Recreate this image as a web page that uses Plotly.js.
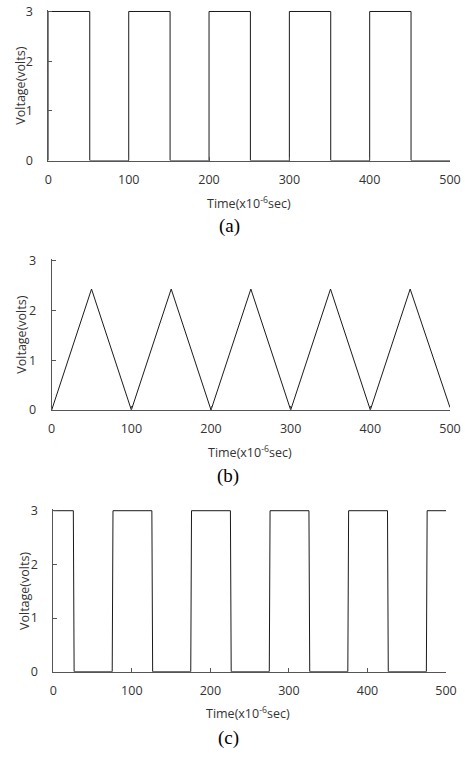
<!DOCTYPE html>
<html>
<head>
<meta charset="utf-8">
<script src="https://cdn.plot.ly/plotly-3.0.1.min.js"></script>
<style>html,body{margin:0;padding:0;background:#fff;}#chart{width:465px;height:757px;}</style>
</head>
<body>
<div id="chart"></div>
<script>
// (a) square wave
const timeA = [0, 0, 51.5, 51.5, 100, 100, 151.5, 151.5, 200, 200, 251.5, 251.5, 300, 300, 351.5, 351.5, 400, 400, 451.5, 451.5, 500];
const voltA = [0, 3, 3, 0, 0, 3, 3, 0, 0, 3, 3, 0, 0, 3, 3, 0, 0, 3, 3, 0, 0];
// (b) triangle wave
const timeB = [0, 50, 100, 150, 200, 250, 300, 350, 400, 450, 500];
const voltB = [0, 2.43, 0, 2.43, 0, 2.43, 0, 2.43, 0, 2.43, 0.05];
// (c) shifted square wave
const timeC = [0, 25.5, 26.5, 75, 76, 125.5, 126.5, 175, 176, 225.5, 226.5, 275, 276, 325.5, 326.5, 375, 376, 425.5, 426.5, 475, 476, 500];
const voltC = [3, 3, 0, 0, 3, 3, 0, 0, 3, 3, 0, 0, 3, 3, 0, 0, 3, 3, 0, 0, 3, 3];

const xTicks = [0, 100, 200, 300, 400, 500];
const yTicks = [0, 1, 2, 3];
const yTitle = 'Voltage(volts)';
const xTitle = 'Time(x10<sup>-6</sup>sec)';
const captions = ['(a)', '(b)', '(c)'];

const W = 465, H = 757;
const px = v => v / W;
const py = v => 1 - v / H;

const lineStyle = {color: '#1a1a1a', width: 1};
const traces = [
  {x: timeA, y: voltA, xaxis: 'x', yaxis: 'y', mode: 'lines', line: lineStyle},
  {x: timeB, y: voltB, xaxis: 'x2', yaxis: 'y2', mode: 'lines', line: lineStyle},
  {x: timeC, y: voltC, xaxis: 'x3', yaxis: 'y3', mode: 'lines', line: lineStyle}
];

const tickFont = {family: 'Open Sans, sans-serif', size: 12.5, color: '#333'};
function xa(d0, d1, anchor) {
  return {domain: [px(d0), px(d1)], anchor: anchor, range: [0, 500], tickvals: xTicks,
    showgrid: false, zeroline: false, showline: true, linecolor: '#555', linewidth: 1,
    ticks: 'inside', ticklen: 4, tickcolor: '#555', tickfont: tickFont, ticklabelstandoff: 7, fixedrange: true};
}
function ya(b, t, anchor) {
  return {domain: [py(b), py(t)], anchor: anchor, range: [0, 3.03], tickvals: yTicks,
    showgrid: false, zeroline: false, showline: true, linecolor: '#555', linewidth: 1,
    ticks: 'inside', ticklen: 4, tickcolor: '#555', tickfont: tickFont, ticklabelstandoff: 12, fixedrange: true};
}

const ann = [];
const titleFont = {family: 'Open Sans, sans-serif', size: 12.5, color: '#333'};
const capFont = {family: 'Liberation Serif, Times New Roman, serif', size: 19, color: '#000'};
const yTitlePos = [[20.7, 86], [20.7, 335], [24, 591]];
const xTitlePos = [[249, 203], [250, 452], [248, 713]];
const capPos = [[229, 226], [228, 476], [228, 738]];
for (let i = 0; i < 3; i++) {
  ann.push({text: yTitle, xref: 'paper', yref: 'paper', x: px(yTitlePos[i][0]), y: py(yTitlePos[i][1]),
    textangle: -90, showarrow: false, font: titleFont, xanchor: 'center', yanchor: 'middle'});
  ann.push({text: xTitle, xref: 'paper', yref: 'paper', x: px(xTitlePos[i][0]), y: py(xTitlePos[i][1]),
    showarrow: false, font: titleFont, xanchor: 'center', yanchor: 'middle'});
  ann.push({text: captions[i], xref: 'paper', yref: 'paper', x: px(capPos[i][0]), y: py(capPos[i][1]),
    showarrow: false, font: capFont, xanchor: 'center', yanchor: 'middle'});
}

const layout = {
  width: W, height: H, margin: {l: 0, r: 0, t: 0, b: 0},
  paper_bgcolor: '#fff', plot_bgcolor: '#fff', showlegend: false,
  xaxis: xa(48.4, 450, 'y'), yaxis: ya(160.5, 10.0, 'x'),
  xaxis2: xa(51.7, 450, 'y2'), yaxis2: ya(410, 259.2, 'x2'),
  xaxis3: xa(53.3, 446, 'y3'), yaxis3: ya(671.7, 509.1, 'x3'),
  annotations: ann
};

Plotly.newPlot('chart', traces, layout, {staticPlot: true, displayModeBar: false});
</script>
</body>
</html>
